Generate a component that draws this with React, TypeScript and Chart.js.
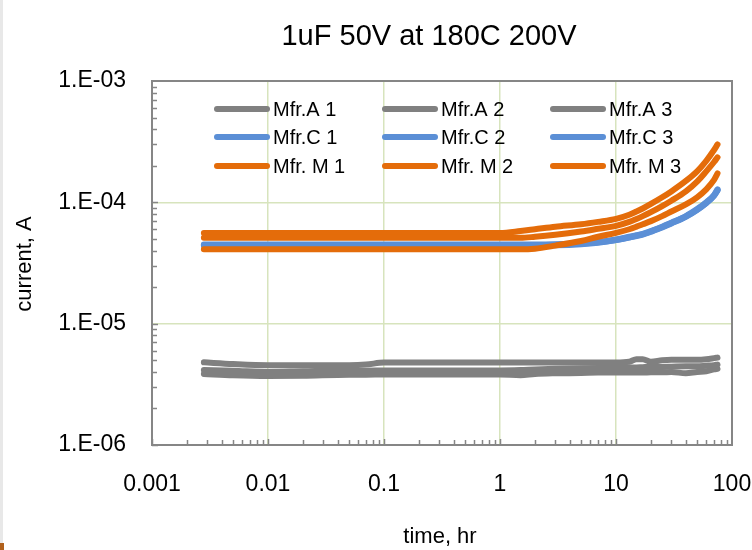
import { useEffect, useRef } from 'react';
import { Chart, registerables } from 'chart.js';

Chart.register(...registerables);

const FONT = 'Liberation Sans, Arial, sans-serif';

// time, hr
const times = [0.0028, 0.005, 0.01, 0.02, 0.05, 0.07, 0.1, 0.2, 0.5, 1, 1.5, 2, 3, 5, 7, 10, 13, 15, 17, 20, 25, 30, 40, 50, 60, 70, 75];

// current, A (x1e-6)
const mfrA1 = [4.8, 4.65, 4.55, 4.55, 4.55, 4.6, 4.78, 4.78, 4.78, 4.78, 4.78, 4.78, 4.78, 4.78, 4.78, 4.78, 4.85, 5.1, 5.1, 4.85, 5.0, 5.05, 5.05, 5.05, 5.1, 5.2, 5.25];
const mfrA2 = [4.15, 4.1, 4.0, 4.05, 4.1, 4.1, 4.12, 4.12, 4.12, 4.12, 4.15, 4.2, 4.25, 4.3, 4.32, 4.33, 4.35, 4.36, 4.38, 4.4, 4.4, 4.42, 4.45, 4.45, 4.5, 4.55, 4.6];
const mfrA3 = [3.85, 3.75, 3.7, 3.72, 3.8, 3.8, 3.82, 3.82, 3.82, 3.82, 3.75, 3.85, 3.9, 3.92, 3.95, 3.95, 3.95, 3.95, 3.95, 3.97, 3.97, 4.0, 3.9, 4.0, 4.05, 4.2, 4.25];

// current, A (x1e-5)
const mfrC1 = [4.5, 4.5, 4.5, 4.5, 4.5, 4.5, 4.5, 4.5, 4.5, 4.5, 4.5, 4.5, 4.52, 4.6, 4.72, 4.95, 5.2, 5.35, 5.5, 5.8, 6.3, 6.8, 7.7, 8.8, 10, 11.5, 12.8];
const mfrC2 = [4.4, 4.4, 4.4, 4.4, 4.4, 4.4, 4.4, 4.4, 4.4, 4.4, 4.4, 4.4, 4.42, 4.52, 4.65, 4.88, 5.12, 5.28, 5.42, 5.72, 6.2, 6.7, 7.6, 8.65, 9.85, 11.3, 12.5];
const mfrC3 = [4.45, 4.45, 4.45, 4.45, 4.45, 4.45, 4.45, 4.45, 4.45, 4.45, 4.45, 4.45, 4.47, 4.56, 4.68, 4.9, 5.15, 5.3, 5.46, 5.76, 6.25, 6.75, 7.65, 8.7, 9.9, 11.4, 12.6];
const mfrM1 = [5.6, 5.6, 5.6, 5.6, 5.6, 5.6, 5.6, 5.6, 5.6, 5.6, 5.8, 6.0, 6.3, 6.6, 6.9, 7.3, 7.9, 8.4, 8.9, 9.7, 11, 12.3, 15, 18, 22, 27, 30];
const mfrM2 = [5.1, 5.1, 5.1, 5.1, 5.1, 5.1, 5.1, 5.1, 5.1, 5.1, 5.1, 5.2, 5.4, 5.75, 6.05, 6.4, 6.9, 7.3, 7.7, 8.3, 9.3, 10.3, 12.3, 14.8, 18, 21.5, 23.5];
const mfrM3 = [4.1, 4.1, 4.1, 4.1, 4.1, 4.1, 4.1, 4.1, 4.1, 4.1, 4.1, 4.15, 4.4, 4.8, 5.2, 5.6, 6.0, 6.3, 6.6, 7.0, 7.7, 8.4, 9.6, 11, 12.8, 15.3, 17.3];

const seriesLabels = ['Mfr.A 1', 'Mfr.A 2', 'Mfr.A 3', 'Mfr.C 1', 'Mfr.C 2', 'Mfr.C 3', 'Mfr. M 1', 'Mfr. M 2', 'Mfr. M 3'];
const seriesValues = [mfrA1, mfrA2, mfrA3, mfrC1, mfrC2, mfrC3, mfrM1, mfrM2, mfrM3];
const seriesScale = [1e-6, 1e-6, 1e-6, 1e-5, 1e-5, 1e-5, 1e-5, 1e-5, 1e-5];
const seriesColors = ['#808080', '#808080', '#808080', '#5b8fd6', '#5b8fd6', '#5b8fd6', '#e46c0a', '#e46c0a', '#e46c0a'];

const xTicks = [0.001, 0.01, 0.1, 1, 10, 100];
const xTickLabels = ['0.001', '0.01', '0.1', '1', '10', '100'];
const yTicks = [1e-6, 1e-5, 1e-4, 1e-3];
const yTickLabels = ['1.E-06', '1.E-05', '1.E-04', '1.E-03'];

const titleText = '1uF 50V at 180C 200V';
const xTitle = 'time, hr';
const yTitle = 'current, A';

const GRID = '#d7e4bd';
const AXIS = '#868686';

const decorPlugin = {
  id: 'decor',
  afterDatasetsDraw(chart: any) {
    const ctx = chart.ctx;
    const { left, right, top, bottom } = chart.chartArea;
    const xs = chart.scales.x;
    const ys = chart.scales.y;
    ctx.save();
    // minor + major ticks (inside)
    ctx.strokeStyle = AXIS;
    ctx.lineWidth = 1.5;
    ctx.beginPath();
    for (let d = -3; d < 2; d++) {
      for (let m = 1; m <= 9; m++) {
        const x = Math.round(xs.getPixelForValue(m * Math.pow(10, d))) + 0.5;
        ctx.moveTo(x, bottom);
        ctx.lineTo(x, bottom - (m === 1 ? 6 : 5));
      }
    }
    for (let d = -6; d < -3; d++) {
      for (let m = 1; m <= 9; m++) {
        const y = Math.round(ys.getPixelForValue(m * Math.pow(10, d))) + 0.5;
        ctx.moveTo(left, y);
        ctx.lineTo(left + (m === 1 ? 6 : 5), y);
      }
    }
    ctx.stroke();
    // frame
    ctx.lineWidth = 2;
    ctx.strokeStyle = AXIS;
    ctx.strokeRect(left, top, right - left, bottom - top);

    // legend
    const cols = [215, 383, 551];
    const rows = [109, 137, 166];
    ctx.font = `20px ${FONT}`;
    ctx.textBaseline = 'middle';
    ctx.textAlign = 'left';
    chart.data.datasets.forEach((ds: any, i: number) => {
      const cx = cols[i % 3];
      const cy = rows[Math.floor(i / 3)];
      ctx.strokeStyle = ds.borderColor;
      ctx.lineWidth = 6;
      ctx.lineCap = 'round';
      ctx.beginPath();
      ctx.moveTo(cx + 2, cy);
      ctx.lineTo(cx + 52, cy);
      ctx.stroke();
      ctx.fillStyle = '#000';
      ctx.fillText(ds.label, cx + 58, cy + 1);
    });

    // title
    ctx.fillStyle = '#000';
    ctx.textAlign = 'center';
    ctx.font = `29px ${FONT}`;
    ctx.fillText(titleText, 429, 37);
    // x title
    ctx.font = `22px ${FONT}`;
    ctx.fillText(xTitle, 440, 537);
    // y title
    ctx.translate(25, 264);
    ctx.rotate(-Math.PI / 2);
    ctx.fillText(yTitle, 0, 0);
    ctx.restore();
  },
};

export default function App() {
  const ref = useRef<HTMLCanvasElement | null>(null);
  useEffect(() => {
    if (!ref.current) return;
    const datasets = seriesLabels.map((label, i) => ({
      label,
      data: times.map((t, j) => ({ x: t, y: seriesValues[i][j] * seriesScale[i] })),
      borderColor: seriesColors[i],
      backgroundColor: seriesColors[i],
      borderWidth: 6,
      borderCapStyle: 'round' as const,
      borderJoinStyle: 'round' as const,
      pointRadius: 0,
      cubicInterpolationMode: 'monotone' as const,
      fill: false,
      order: 8 - i,
    }));
    const chart = new Chart(ref.current, {
      type: 'line',
      data: { datasets },
      plugins: [decorPlugin],
      options: {
        responsive: false,
        animation: false,
        layout: { padding: { top: 81, right: 20, left: 0, bottom: 0 } },
        plugins: { legend: { display: false }, tooltip: { enabled: false }, title: { display: false } },
        scales: {
          x: {
            type: 'logarithmic',
            min: 0.001,
            max: 100,
            afterBuildTicks: (s: any) => { s.ticks = xTicks.map((v) => ({ value: v })); },
            afterFit: (s: any) => { s.height = 105; s.paddingLeft = 0; s.paddingRight = 0; },
            ticks: {
              autoSkip: false,
              maxRotation: 0,
              padding: 26,
              color: '#000',
              font: { family: FONT, size: 23 },
              callback: (_v: any, i: number) => xTickLabels[i],
            },
            grid: { color: GRID, lineWidth: 1.5, drawTicks: false },
            border: { display: false },
          },
          y: {
            type: 'logarithmic',
            min: 1e-6,
            max: 1e-3,
            afterBuildTicks: (s: any) => { s.ticks = yTicks.map((v) => ({ value: v })); },
            afterFit: (s: any) => { s.width = 152; s.paddingTop = 0; s.paddingBottom = 0; },
            ticks: {
              padding: 26,
              color: '#000',
              font: { family: FONT, size: 23 },
              callback: (_v: any, i: number) => yTickLabels[i],
            },
            grid: { color: GRID, lineWidth: 1.5, drawTicks: false },
            border: { display: false },
          },
        },
      },
    });
    return () => chart.destroy();
  }, []);

  return (
    <div style={{ position: 'absolute', left: 0, top: 0, width: 752, height: 550, background: '#fff', overflow: 'hidden' }}>
      <canvas ref={ref} width={752} height={550} style={{ position: 'absolute', left: 0, top: 0 }} />
      <div style={{ position: 'absolute', left: 0, top: 0, width: 3, height: 550, background: '#e8e8e8' }} />
      <div style={{ position: 'absolute', left: 0, top: 543, width: 4, height: 7, background: '#b0601c' }} />
    </div>
  );
}
